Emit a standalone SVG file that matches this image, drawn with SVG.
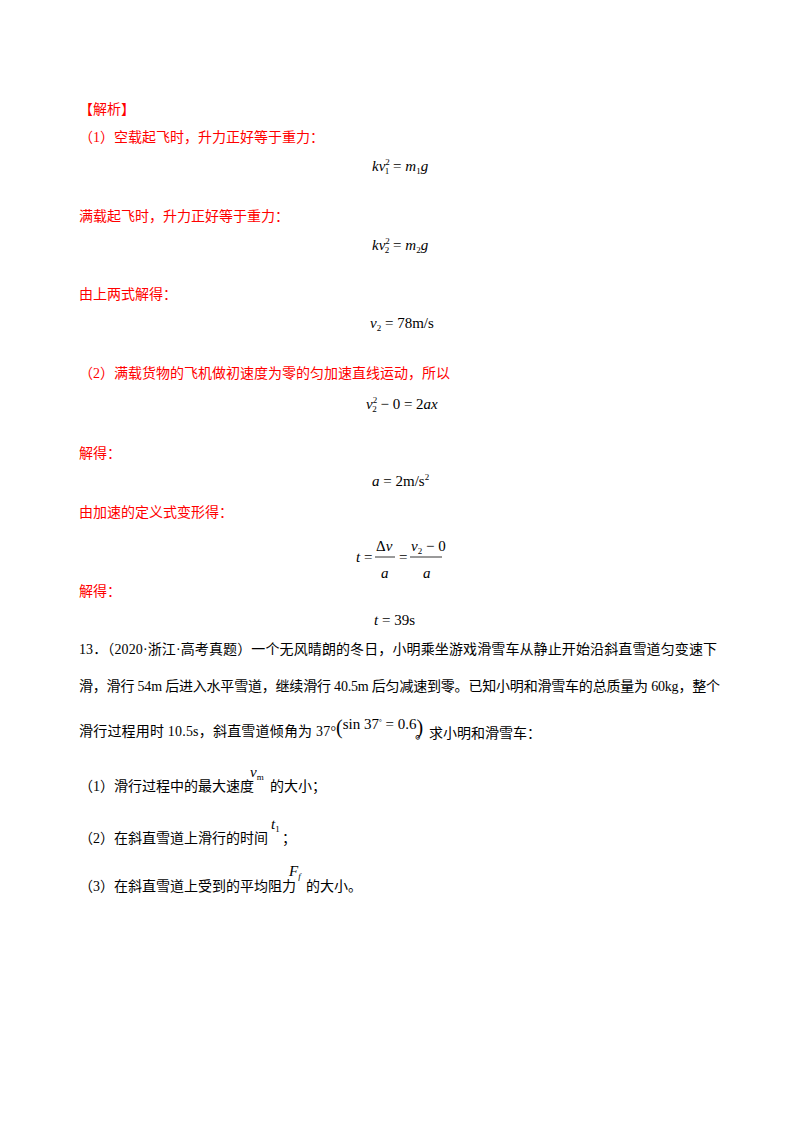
<svg xmlns="http://www.w3.org/2000/svg" width="800" height="1132" viewBox="0 0 800 1132">
<style>
text{font-family:"Liberation Serif","Noto Sans CJK SC",serif;font-size:14px;fill:#000}
.r{fill:#ff0000}
.m{font-family:"Liberation Serif",serif;font-size:15px}
.i{font-style:italic}
.s{font-size:9px}
</style>
<rect width="800" height="1132" fill="#fff"/>
<text class="r" x="79" y="114">【解析】</text>
<text class="r" x="79" y="142">（1）空载起飞时，升力正好等于重力：</text>
<text class="m" x="372" y="171"><tspan class="i">kv</tspan><tspan class="s" dx="0" dy="-6">2</tspan><tspan class="s" dx="-5" dy="9">1</tspan><tspan dy="-3"> = </tspan><tspan class="i">m</tspan><tspan class="s" dy="3">1</tspan><tspan class="i" dy="-3">g</tspan></text>
<text class="r" x="79" y="221">满载起飞时，升力正好等于重力：</text>
<text class="m" x="372" y="250"><tspan class="i">kv</tspan><tspan class="s" dy="-6">2</tspan><tspan class="s" dx="-5" dy="9">2</tspan><tspan dy="-3"> = </tspan><tspan class="i">m</tspan><tspan class="s" dy="3">2</tspan><tspan class="i" dy="-3">g</tspan></text>
<text class="r" x="79" y="299">由上两式解得：</text>
<text class="m" x="370" y="328"><tspan class="i">v</tspan><tspan class="s" dy="3">2</tspan><tspan dy="-3"> = 78m/s</tspan></text>
<text class="r" x="79" y="378">（2）满载货物的飞机做初速度为零的匀加速直线运动，所以</text>
<text class="m" x="366" y="409"><tspan class="i">v</tspan><tspan class="s" dy="-6">2</tspan><tspan class="s" dx="-5" dy="9">2</tspan><tspan dy="-3"> − 0 = 2</tspan><tspan class="i">ax</tspan></text>
<text class="r" x="79" y="458">解得：</text>
<text class="m" x="372" y="486"><tspan class="i">a</tspan> = 2m/s<tspan class="s" dy="-6">2</tspan></text>
<text class="r" x="79" y="517">由加速的定义式变形得：</text>
<g>
<text class="m" x="356" y="562"><tspan class="i">t</tspan> =</text>
<text class="m" x="376" y="551">Δ<tspan class="i">v</tspan></text>
<line x1="375" y1="557" x2="395" y2="557" stroke="#000" stroke-width="0.8"/>
<text class="m i" x="381" y="578">a</text>
<text class="m" x="399" y="562">=</text>
<text class="m" x="411" y="551"><tspan class="i">v</tspan><tspan class="s" dy="3">2</tspan><tspan dy="-3"> − 0</tspan></text>
<line x1="410" y1="557" x2="442" y2="557" stroke="#000" stroke-width="0.8"/>
<text class="m i" x="423" y="578">a</text>
</g>
<text class="r" x="79" y="596">解得：</text>
<text class="m" x="374" y="625"><tspan class="i">t</tspan> = 39s</text>
<text x="79" y="654" textLength="638" lengthAdjust="spacing">13．（2020·浙江·高考真题）一个无风晴朗的冬日，小明乘坐游戏滑雪车从静止开始沿斜直雪道匀变速下</text>
<text x="79" y="691" textLength="641" lengthAdjust="spacing">滑，滑行 54m 后进入水平雪道，继续滑行 40.5m 后匀减速到零。已知小明和滑雪车的总质量为 60kg，整个</text>
<text x="79" y="736" textLength="257" lengthAdjust="spacing">滑行过程用时 10.5s，斜直雪道倾角为 37°</text>
<text class="m" x="336" y="732" font-size="13"><tspan font-size="20" dy="2">(</tspan><tspan dy="-5">sin 37</tspan><tspan font-size="7" dy="-5">°</tspan><tspan dy="5"> = 0.6</tspan><tspan font-size="20" dy="5">)</tspan></text>
<text x="415" y="738">。求小明和滑雪车：</text>
<text x="79" y="791">（1）滑行过程中的最大速度</text>
<text class="m i" x="250" y="777">v<tspan class="s" font-style="normal" dy="3">m</tspan></text>
<text x="270" y="791">的大小；</text>
<text x="79" y="843">（2）在斜直雪道上滑行的时间</text>
<text class="m i" x="271" y="829">t<tspan class="s" font-style="normal" dy="3">1</tspan></text>
<text x="282" y="843">；</text>
<text x="79" y="891">（3）在斜直雪道上受到的平均阻力</text>
<text class="m i" x="289" y="876">F<tspan class="s" dy="3">f</tspan></text>
<text x="306" y="891">的大小。</text>
</svg>
